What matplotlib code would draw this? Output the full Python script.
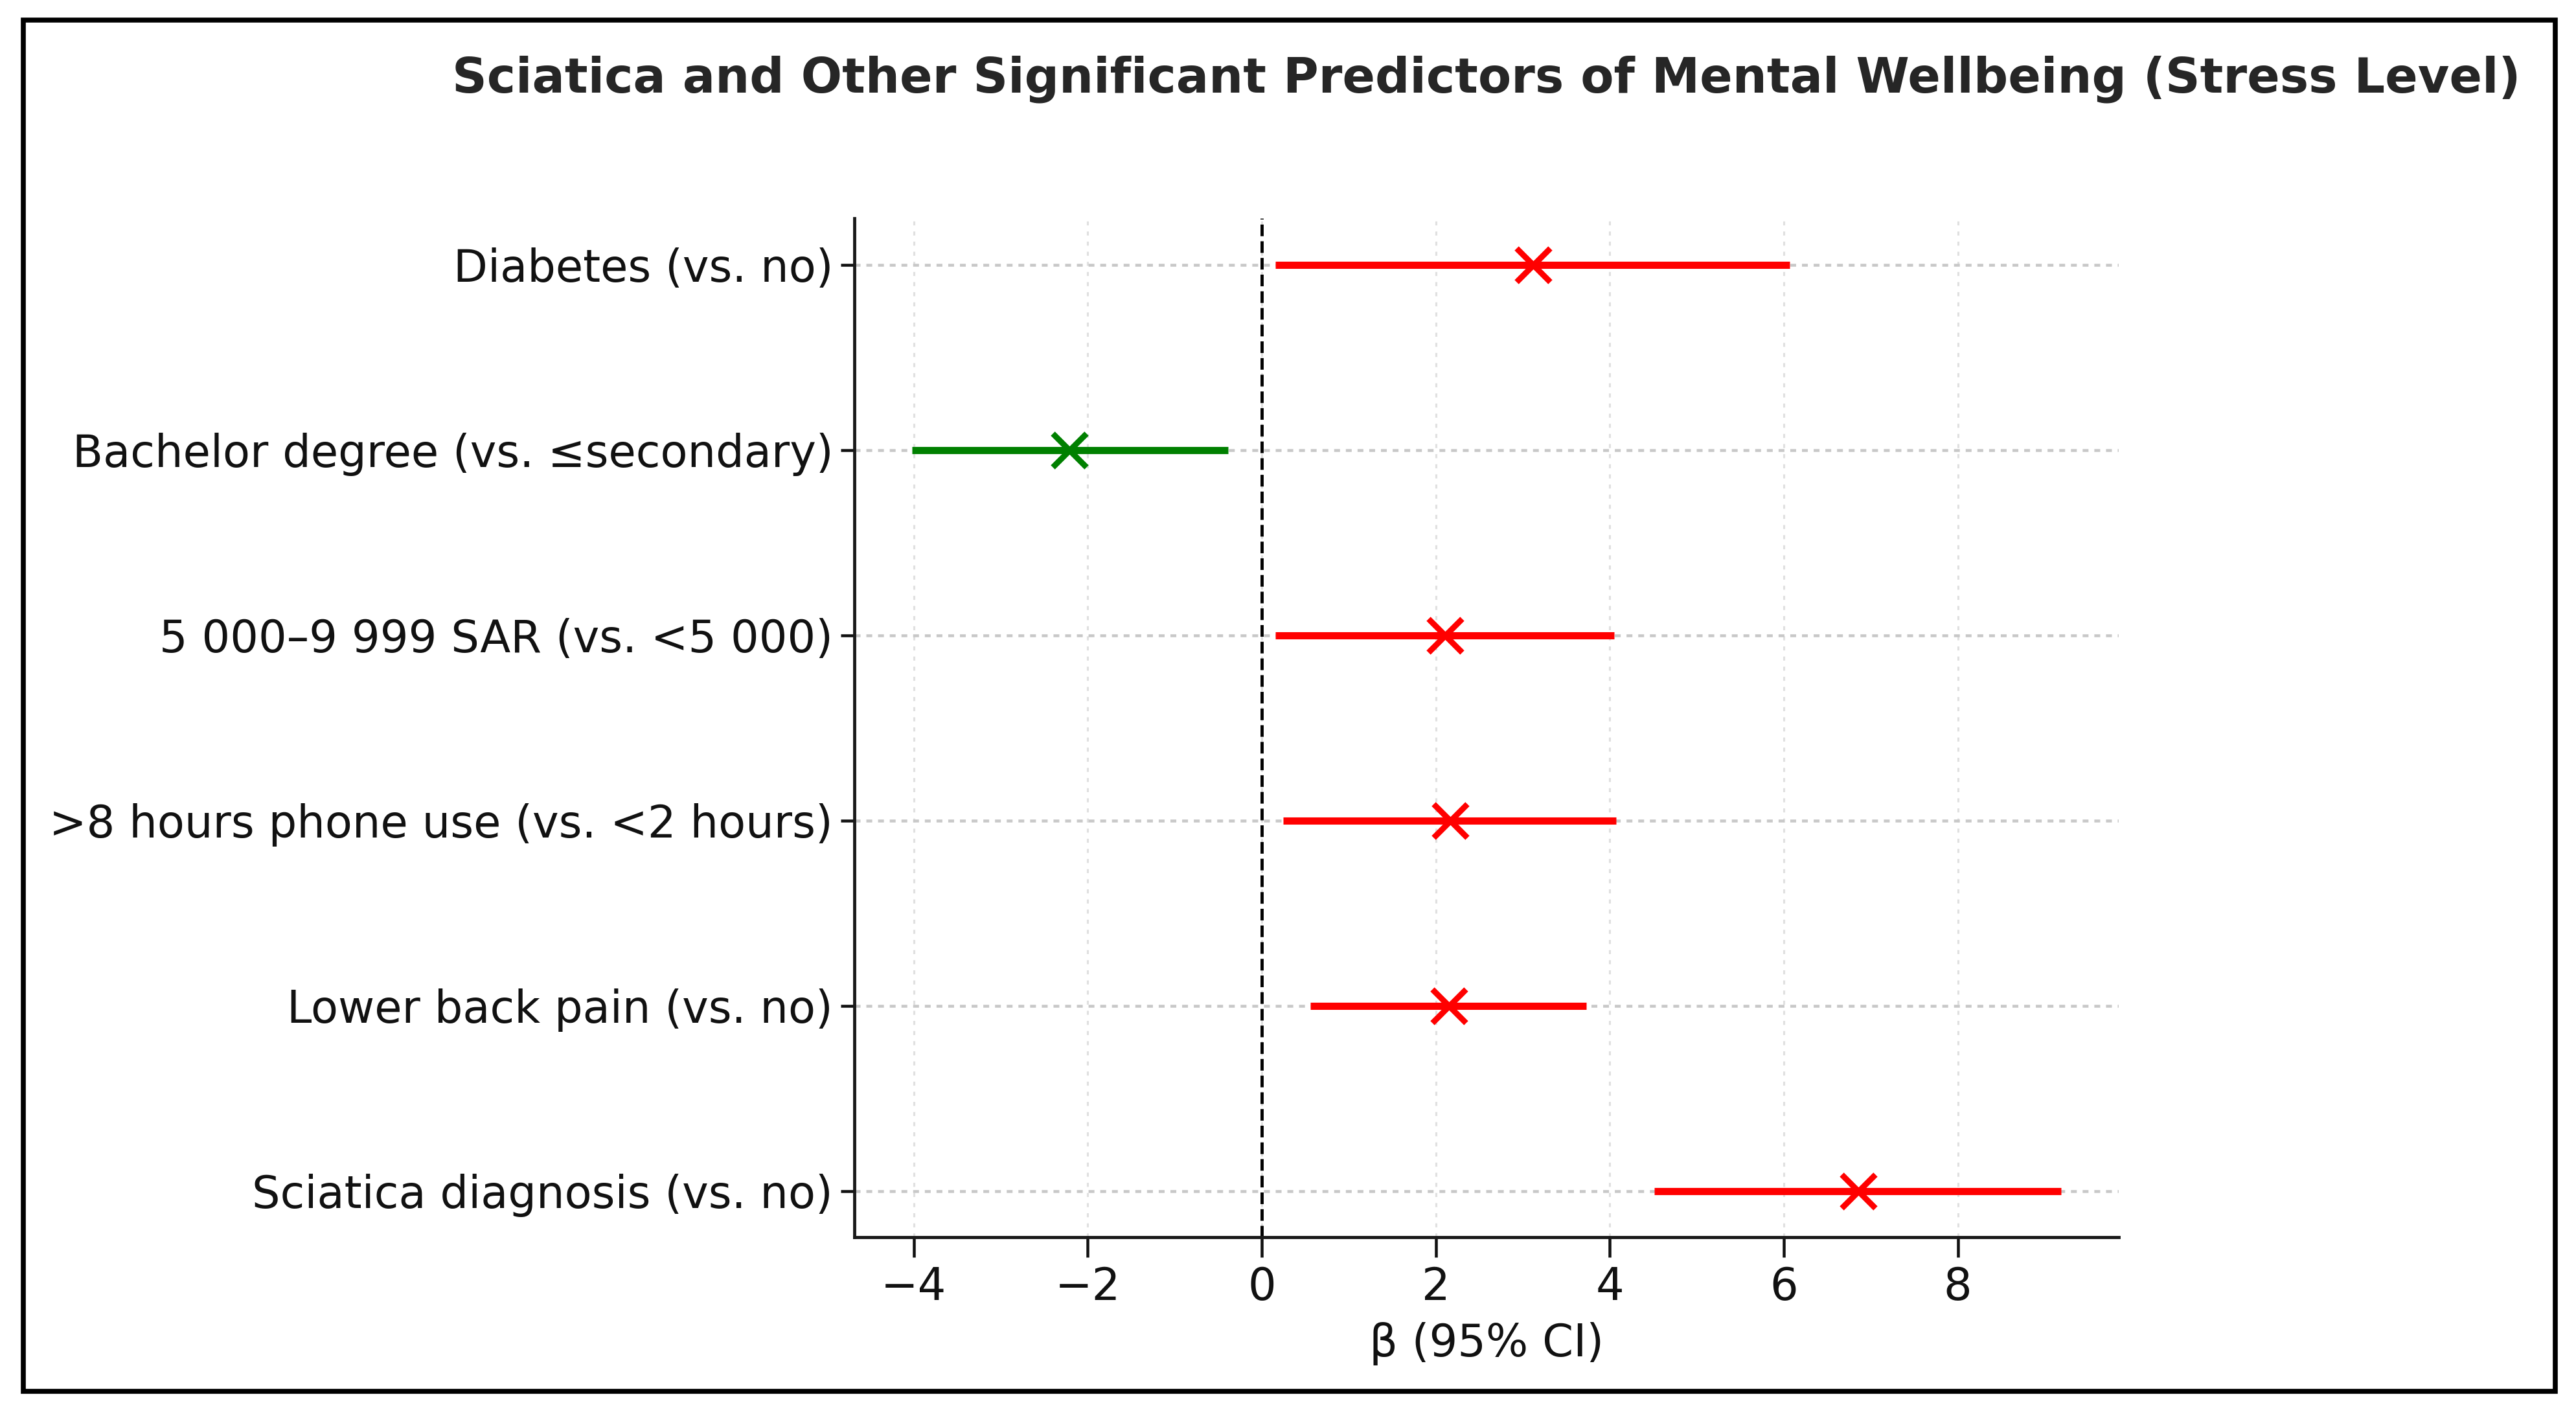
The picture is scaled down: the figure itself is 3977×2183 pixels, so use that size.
import matplotlib
matplotlib.use("Agg")
import matplotlib.pyplot as plt
from matplotlib.patches import Rectangle

# Predictors, top to bottom as shown on the chart
predictors = [
    "Diabetes (vs. no)",
    "Bachelor degree (vs. \u2264secondary)",
    "5 000\u20139 999 SAR (vs. <5 000)",
    ">8 hours phone use (vs. <2 hours)",
    "Lower back pain (vs. no)",
    "Sciatica diagnosis (vs. no)",
]
beta = [3.12, -2.21, 2.11, 2.17, 2.15, 6.86]
ci_low = [0.16, -4.02, 0.16, 0.25, 0.56, 4.51]
ci_high = [6.07, -0.39, 4.05, 4.07, 3.73, 9.19]

plt.rcParams["font.family"] = ["DejaVu Sans"]

fig = plt.figure(figsize=(15.908, 8.732), dpi=250)
ax = fig.add_axes([0.3317, 0.125, 0.4908, 0.7206])

# reversed y so the first predictor sits on top
ypos = list(range(len(predictors)))[::-1]

for y, b, lo, hi in zip(ypos, beta, ci_low, ci_high):
    col = "green" if b < 0 else "red"
    ax.plot([lo, hi], [y, y], color=col, lw=3.2, solid_capstyle="butt", zorder=3)
    ax.plot(b, y, marker="x", color=col, markersize=15, markeredgewidth=2.6, zorder=4)

ax.axvline(0, color="black", linestyle="--", lw=1.4, zorder=2)

ax.set_yticks(ypos)
ax.set_yticklabels(predictors, fontsize=19.8, color="#111111")
ax.set_xticks([-4, -2, 0, 2, 4, 6, 8])
ax.tick_params(axis="x", labelsize=19.8, colors="#111111", length=9, width=1.3)
ax.tick_params(axis="y", length=6, width=1.3, colors="#111111")
ax.set_xlabel("\u03b2 (95% CI)", fontsize=19.8, color="#111111", labelpad=6)

ax.grid(axis="x", linestyle=(0, (2, 3)), color="#e0e0e0", lw=0.9, zorder=0)
ax.grid(axis="y", linestyle=(0, (2, 2)), color="#c8c8c8", lw=1.3, zorder=0)

for side in ["top", "right"]:
    ax.spines[side].set_visible(False)
for side in ["left", "bottom"]:
    ax.spines[side].set_linewidth(1.4)
    ax.spines[side].set_color("#1a1a1a")

ax.set_title("Sciatica and Other Significant Predictors of Mental Wellbeing (Stress Level)",
             fontsize=21.5, fontweight="bold", color="#262626", pad=56)

# outer frame around the whole picture
fig.patches.append(Rectangle((0.009, 0.016), 0.983, 0.970, transform=fig.transFigure,
                             fill=False, edgecolor="black", lw=2.2))

fig.savefig("out.png", dpi=250)
